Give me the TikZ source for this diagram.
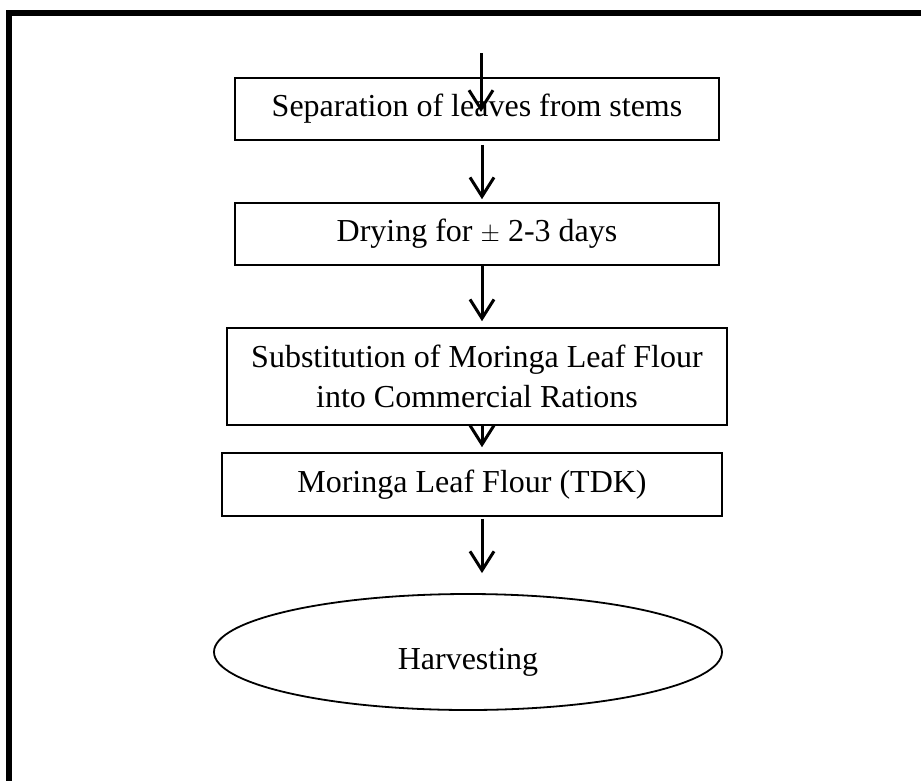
\documentclass[tikz,border=0pt]{standalone}
\usepackage{fontspec}
\setmainfont{Liberation Serif}
\usetikzlibrary{arrows.meta,shapes.geometric}
\begin{document}
\begin{tikzpicture}[x=1pt,y=-1pt,
  stepbox/.style={draw,line width=1.6pt,inner sep=0pt,align=center,font=\fontsize{32}{40}\selectfont},
  endoval/.style={ellipse,draw,line width=1.8pt,inner sep=0pt,text height=42pt,text depth=7pt,font=\fontsize{32}{40}\selectfont},
  flow/.style={line width=3pt,-{Straight Barb[length=19pt,width=24pt,line width=3pt]}},
  frameline/.style={line width=6pt,miter limit=4}]
\useasboundingbox (0,0) rectangle (921,780);
% frame (left and top only)
\draw[frameline] (9,790) -- (9,13) -- (930,13);
% nodes
\node[stepbox,minimum width=484pt,minimum height=62pt] (b1) at (477,109) {Separation of leaves from stems};
\node[stepbox,minimum width=484pt,minimum height=62pt] (b2) at (477,234) {Drying for $\pm$ 2-3 days};
\node[stepbox,minimum width=500pt,minimum height=97pt,text depth=0pt] (b3) at (477,376.5) {Substitution of Moringa Leaf Flour\\into Commercial Rations};
\node[stepbox,minimum width=500pt,minimum height=63pt] (b4) at (472,484.5) {Moringa Leaf Flour (TDK)};
\node[endoval,minimum width=508pt,minimum height=116pt] (e1) at (468,652) {Harvesting};
% connectors
\coordinate (ax) at (482,0);
\coordinate (s0) at (481,53);
\coordinate (t0) at (481,112);
\draw[flow] (s0) -- (t0);
\draw[flow,shorten <=4pt,shorten >=3pt] (b1.south -| ax) -- (b2.north -| ax);
\draw[flow,shorten >=6pt] (b2.south -| ax) -- (b3.north -| ax);
\draw[flow,shorten >=5pt] (b3.south -| ax) -- (b4.north -| ax);
\draw[flow,shorten <=2pt,shorten >=20pt] (b4.south -| ax) -- (e1.north -| ax);
\end{tikzpicture}
\end{document}
